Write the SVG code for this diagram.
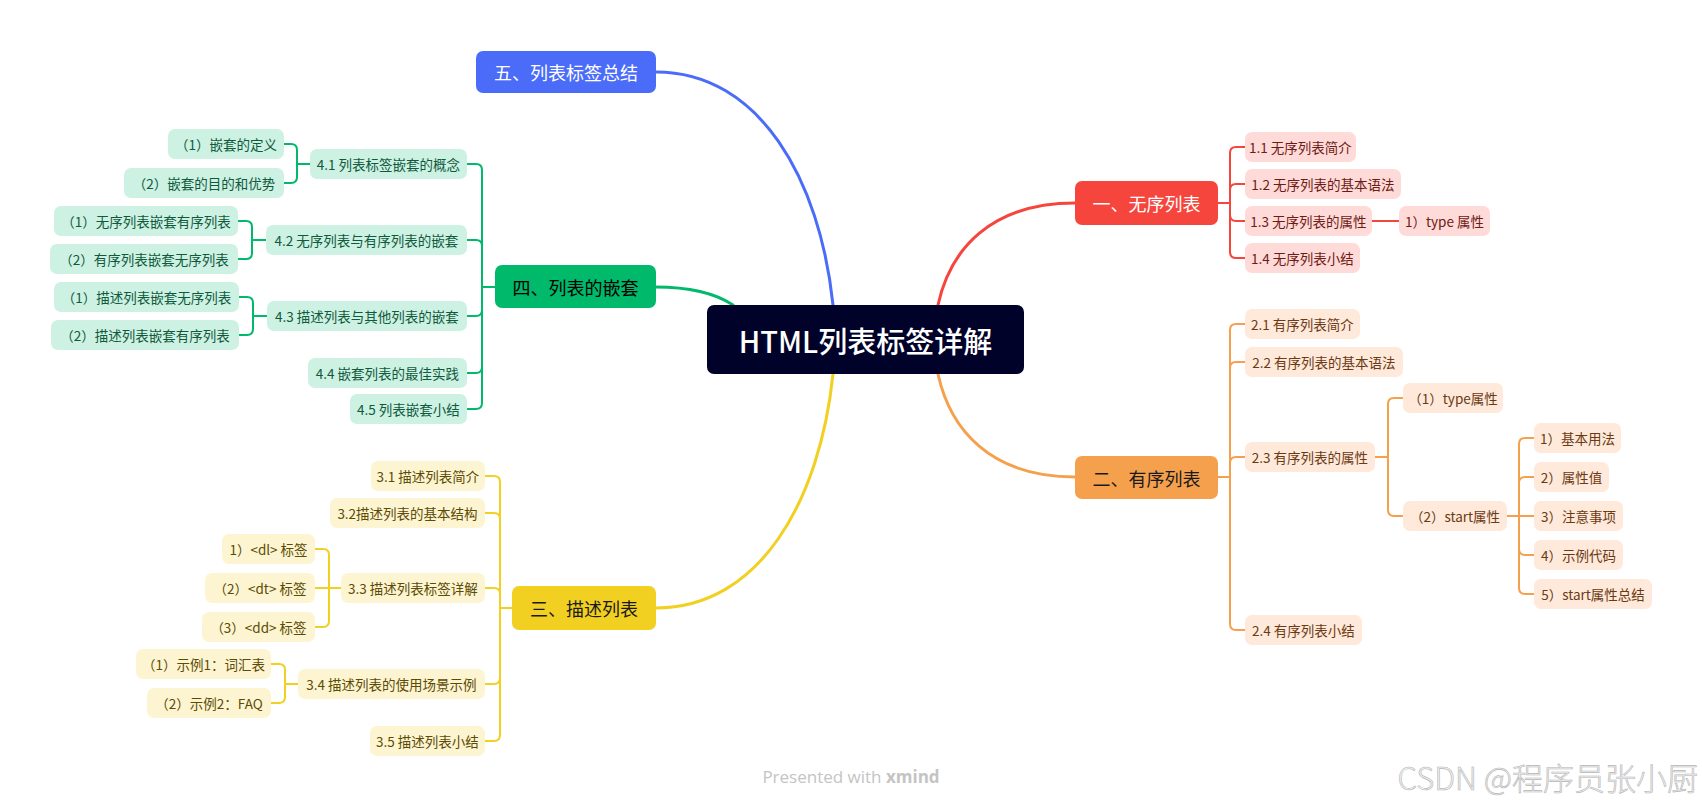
<svg xmlns="http://www.w3.org/2000/svg" width="1702" height="806" viewBox="0 0 1702 806">
<style>
text{font-family:"Noto Sans CJK SC","Noto Sans",sans-serif;text-anchor:middle;dominant-baseline:central}
.s{font-size:13.5px}
.m{font-size:18px}
.gl{fill:#CDF1E2}.gt{fill:#0F5A3D}
.yl{fill:#FDF5D1}.yt{fill:#5C4B05}
.rl{fill:#FEDAD8}.rt{fill:#6E1A15}
.ol{fill:#FEE9DA}.ot{fill:#6B3A13}
.cg{stroke:#00B96B}.cy{stroke:#F2D022}.cr{stroke:#F6453C}.co{stroke:#F5A04D}.cb{stroke:#4B6CF9}
#connectors path{fill:none;stroke-width:2;stroke-linecap:round}
#connectors .main{stroke-width:3}
</style>
<rect width="1702" height="806" fill="#FFFFFF"/>
<g id="connectors">
<path class="main cb" d="M833,305 C820,180 760,72 656,72"/>
<path class="main cg" d="M733,305 C715,293 690,287 655,287"/>
<path class="main cy" d="M833,374 C820,500 760,608 656,608"/>
<path class="main cr" d="M938,305 C950,250 990,203 1075,203"/>
<path class="main co" d="M938,374 C950,429 990,477 1075,477"/>
<!-- red -->
<path class="cr" d="M1218,203 H1230"/>
<path class="cr" d="M1230,203 V153 Q1230,147 1236,147 H1245"/>
<path class="cr" d="M1230,203 V190 Q1230,184 1236,184 H1245"/>
<path class="cr" d="M1230,203 V215 Q1230,221 1236,221 H1245"/>
<path class="cr" d="M1230,203 V252 Q1230,258 1236,258 H1245"/>
<path class="cr" d="M1372,221 H1399"/>
<!-- orange -->
<path class="co" d="M1218,477 H1230"/>
<path class="co" d="M1230,477 V330 Q1230,324 1236,324 H1245"/>
<path class="co" d="M1230,477 V368 Q1230,362 1236,362 H1245"/>
<path class="co" d="M1230,477 V463 Q1230,457 1236,457 H1245"/>
<path class="co" d="M1230,477 V624 Q1230,630 1236,630 H1245"/>
<path class="co" d="M1375,457 H1388"/>
<path class="co" d="M1388,457 V404 Q1388,398 1394,398 H1403"/>
<path class="co" d="M1388,457 V510 Q1388,516 1394,516 H1403"/>
<path class="co" d="M1507,516 H1534"/>
<path class="co" d="M1519,516 V444 Q1519,438 1525,438 H1534"/>
<path class="co" d="M1519,516 V483 Q1519,477 1525,477 H1534"/>
<path class="co" d="M1519,516 V549 Q1519,555 1525,555 H1534"/>
<path class="co" d="M1519,516 V588 Q1519,594 1525,594 H1534"/>
<!-- green -->
<path class="cg" d="M495,287 H482"/>
<path class="cg" d="M482,287 V170 Q482,164 476,164 H467"/>
<path class="cg" d="M482,287 V246 Q482,240 476,240 H467"/>
<path class="cg" d="M482,287 V310 Q482,316 476,316 H467"/>
<path class="cg" d="M482,287 V367 Q482,373 476,373 H467"/>
<path class="cg" d="M482,287 V403 Q482,409 476,409 H467"/>
<path class="cg" d="M310,164 H297"/>
<path class="cg" d="M297,164 V150 Q297,144 291,144 H284"/>
<path class="cg" d="M297,164 V177 Q297,183 291,183 H284"/>
<path class="cg" d="M266,240 H252"/>
<path class="cg" d="M252,240 V227 Q252,221 246,221 H238"/>
<path class="cg" d="M252,240 V253 Q252,259 246,259 H238"/>
<path class="cg" d="M267,316 H253"/>
<path class="cg" d="M253,316 V303 Q253,297 247,297 H239"/>
<path class="cg" d="M253,316 V329 Q253,335 247,335 H239"/>
<!-- yellow -->
<path class="cy" d="M512,608 H500"/>
<path class="cy" d="M500,608 V482 Q500,476 494,476 H485"/>
<path class="cy" d="M500,608 V519 Q500,513 494,513 H485"/>
<path class="cy" d="M500,608 V594 Q500,588 494,588 H485"/>
<path class="cy" d="M500,608 V678 Q500,684 494,684 H485"/>
<path class="cy" d="M500,608 V735 Q500,741 494,741 H485"/>
<path class="cy" d="M341,588 H315"/>
<path class="cy" d="M329,588 V555 Q329,549 323,549 H315"/>
<path class="cy" d="M329,588 V621 Q329,627 323,627 H315"/>
<path class="cy" d="M298,684 H285"/>
<path class="cy" d="M285,684 V670 Q285,664 279,664 H271"/>
<path class="cy" d="M285,684 V697 Q285,703 279,703 H271"/>
</g>

<g id="root"><rect x="707" y="305" width="317" height="69" rx="7" fill="#000229"/><text x="865.5" y="340" font-size="29" font-weight="500" fill="#FFFFFF">HTML列表标签详解</text></g>

<g id="b5"><rect x="476" y="51" width="180" height="42" rx="7" fill="#4B6CF9"/><text class="m" x="566" y="72" fill="#FFFFFF">五、列表标签总结</text></g>
<g id="b4"><rect x="495" y="265" width="161" height="43" rx="7" fill="#00B96B"/><text class="m" x="575.5" y="286.5" fill="#000000">四、列表的嵌套</text></g>
<g id="b3"><rect x="512" y="586" width="144" height="44" rx="7" fill="#F2D022"/><text class="m" x="584" y="608" fill="#1A1A1A">三、描述列表</text></g>
<g id="b1"><rect x="1075" y="181" width="143" height="44" rx="7" fill="#F6453C"/><text class="m" x="1146.5" y="203" fill="#FFFFFF">一、无序列表</text></g>
<g id="b2"><rect x="1075" y="456" width="143" height="43" rx="7" fill="#F5A04D"/><text class="m" x="1146.5" y="477.5" fill="#1A1A1A">二、有序列表</text></g>

<!-- red children -->
<g id="n1-1"><rect class="rl" x="1245" y="132" width="111" height="30" rx="7"/><text class="s rt" x="1300.5" y="147">1.1 无序列表简介</text></g>
<g id="n1-2"><rect class="rl" x="1245" y="169" width="156" height="30" rx="7"/><text class="s rt" x="1323" y="184">1.2 无序列表的基本语法</text></g>
<g id="n1-3"><rect class="rl" x="1245" y="206" width="127" height="30" rx="7"/><text class="s rt" x="1308.5" y="221">1.3 无序列表的属性</text></g>
<g id="n1-3-1"><rect class="rl" x="1399" y="206" width="91" height="30" rx="7"/><text class="s rt" x="1444.5" y="221">1）type 属性</text></g>
<g id="n1-4"><rect class="rl" x="1245" y="243" width="115" height="30" rx="7"/><text class="s rt" x="1302.5" y="258">1.4 无序列表小结</text></g>

<!-- orange children -->
<g id="n2-1"><rect class="ol" x="1245" y="309" width="115" height="30" rx="7"/><text class="s ot" x="1302.5" y="324">2.1 有序列表简介</text></g>
<g id="n2-2"><rect class="ol" x="1245" y="347" width="158" height="30" rx="7"/><text class="s ot" x="1324" y="362">2.2 有序列表的基本语法</text></g>
<g id="n2-3"><rect class="ol" x="1245" y="442" width="130" height="30" rx="7"/><text class="s ot" x="1310" y="457">2.3 有序列表的属性</text></g>
<g id="n2-3-1"><rect class="ol" x="1403" y="383" width="100" height="30" rx="7"/><text class="s ot" x="1453" y="398">（1）type属性</text></g>
<g id="n2-3-2"><rect class="ol" x="1403" y="501" width="104" height="30" rx="7"/><text class="s ot" x="1455" y="516">（2）start属性</text></g>
<g id="n2-3-2-1"><rect class="ol" x="1534" y="423" width="87" height="30" rx="7"/><text class="s ot" x="1577.5" y="438">1）基本用法</text></g>
<g id="n2-3-2-2"><rect class="ol" x="1534" y="462" width="75" height="30" rx="7"/><text class="s ot" x="1571.5" y="477">2）属性值</text></g>
<g id="n2-3-2-3"><rect class="ol" x="1534" y="501" width="89" height="30" rx="7"/><text class="s ot" x="1578.5" y="516">3）注意事项</text></g>
<g id="n2-3-2-4"><rect class="ol" x="1534" y="540" width="89" height="30" rx="7"/><text class="s ot" x="1578.5" y="555">4）示例代码</text></g>
<g id="n2-3-2-5"><rect class="ol" x="1534" y="579" width="118" height="30" rx="7"/><text class="s ot" x="1593" y="594">5）start属性总结</text></g>
<g id="n2-4"><rect class="ol" x="1245" y="615" width="117" height="30" rx="7"/><text class="s ot" x="1303.5" y="630">2.4 有序列表小结</text></g>

<!-- green children -->
<g id="n4-1"><rect class="gl" x="310" y="149" width="157" height="30" rx="7"/><text class="s gt" x="388.5" y="164">4.1 列表标签嵌套的概念</text></g>
<g id="n4-1-1"><rect class="gl" x="168" y="129" width="116" height="30" rx="7"/><text class="s gt" x="226" y="144">（1）嵌套的定义</text></g>
<g id="n4-1-2"><rect class="gl" x="124" y="168" width="160" height="30" rx="7"/><text class="s gt" x="204" y="183">（2）嵌套的目的和优势</text></g>
<g id="n4-2"><rect class="gl" x="266" y="225" width="201" height="30" rx="7"/><text class="s gt" x="366.5" y="240">4.2 无序列表与有序列表的嵌套</text></g>
<g id="n4-2-1"><rect class="gl" x="54" y="206" width="184" height="30" rx="7"/><text class="s gt" x="146" y="221">（1）无序列表嵌套有序列表</text></g>
<g id="n4-2-2"><rect class="gl" x="50" y="244" width="188" height="30" rx="7"/><text class="s gt" x="144" y="259">（2）有序列表嵌套无序列表</text></g>
<g id="n4-3"><rect class="gl" x="267" y="301" width="200" height="30" rx="7"/><text class="s gt" x="367" y="316">4.3 描述列表与其他列表的嵌套</text></g>
<g id="n4-3-1"><rect class="gl" x="54" y="282" width="185" height="30" rx="7"/><text class="s gt" x="146.5" y="297">（1）描述列表嵌套无序列表</text></g>
<g id="n4-3-2"><rect class="gl" x="51" y="320" width="188" height="30" rx="7"/><text class="s gt" x="145" y="335">（2）描述列表嵌套有序列表</text></g>
<g id="n4-4"><rect class="gl" x="308" y="358" width="159" height="30" rx="7"/><text class="s gt" x="387.5" y="373">4.4 嵌套列表的最佳实践</text></g>
<g id="n4-5"><rect class="gl" x="350" y="394" width="117" height="30" rx="7"/><text class="s gt" x="408.5" y="409">4.5 列表嵌套小结</text></g>

<!-- yellow children -->
<g id="n3-1"><rect class="yl" x="371" y="461" width="114" height="30" rx="7"/><text class="s yt" x="428" y="476">3.1 描述列表简介</text></g>
<g id="n3-2"><rect class="yl" x="330" y="498" width="155" height="30" rx="7"/><text class="s yt" x="407.5" y="513">3.2描述列表的基本结构</text></g>
<g id="n3-3"><rect class="yl" x="341" y="573" width="144" height="30" rx="7"/><text class="s yt" x="413" y="588">3.3 描述列表标签详解</text></g>
<g id="n3-3-1"><rect class="yl" x="222" y="534" width="93" height="30" rx="7"/><text class="s yt" x="268.5" y="549">1）&lt;dl&gt; 标签</text></g>
<g id="n3-3-2"><rect class="yl" x="205" y="573" width="110" height="30" rx="7"/><text class="s yt" x="260" y="588">（2）&lt;dt&gt; 标签</text></g>
<g id="n3-3-3"><rect class="yl" x="202" y="612" width="113" height="30" rx="7"/><text class="s yt" x="258.5" y="627">（3）&lt;dd&gt; 标签</text></g>
<g id="n3-4"><rect class="yl" x="298" y="669" width="187" height="30" rx="7"/><text class="s yt" x="391.5" y="684">3.4 描述列表的使用场景示例</text></g>
<g id="n3-4-1"><rect class="yl" x="136" y="649" width="135" height="30" rx="7"/><text class="s yt" x="203.5" y="664">（1）示例1：词汇表</text></g>
<g id="n3-4-2"><rect class="yl" x="147" y="688" width="124" height="30" rx="7"/><text class="s yt" x="209" y="703">（2）示例2：FAQ</text></g>
<g id="n3-5"><rect class="yl" x="370" y="726" width="115" height="30" rx="7"/><text class="s yt" x="427.5" y="741">3.5 描述列表小结</text></g>

<g id="watermarks">
<text x="851" y="776" font-size="17" fill="#C4C4C4" style="font-family:'Open Sans',sans-serif">Presented with <tspan font-weight="700">xmind</tspan></text>
<text x="1698" y="776" font-size="31" font-weight="300" fill="#F0F0F0" stroke="#B5B5B5" stroke-width="0.6" style="text-anchor:end">CSDN @程序员张小厨</text>
</g>
</svg>
